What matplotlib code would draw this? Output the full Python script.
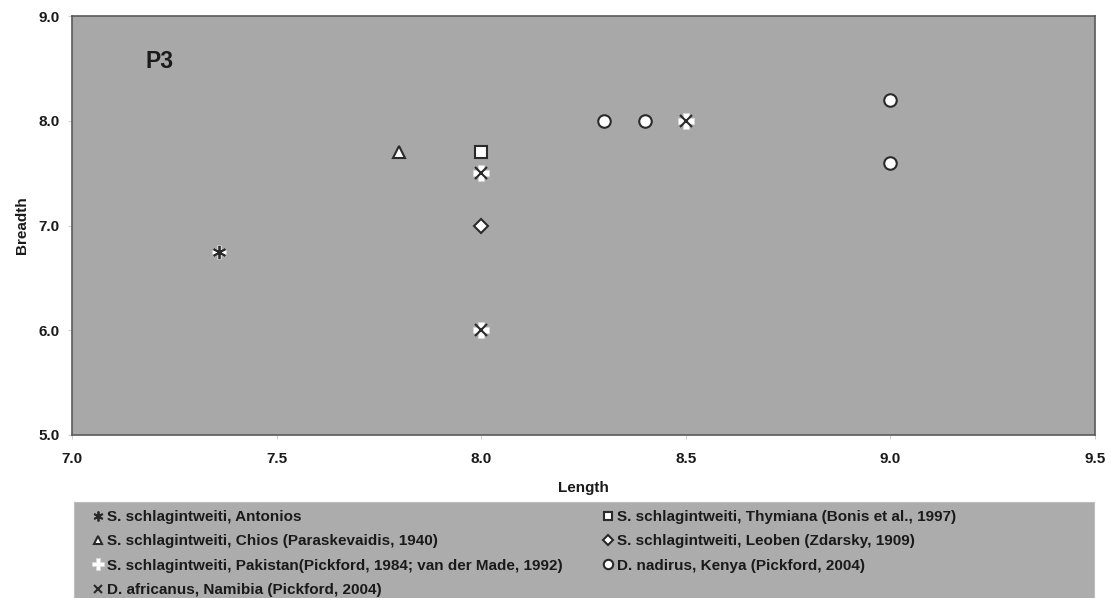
import matplotlib.pyplot as plt

plt.rcParams['font.family'] = ['Liberation Sans', 'DejaVu Sans']
plt.rcParams['font.weight'] = 'bold'

# data
antonios_x = [7.36]
antonios_y = [6.75]
chios_x = [7.8]
chios_y = [7.7]
pakistan_x = [8.0, 8.0, 8.5]
pakistan_y = [7.5, 6.0, 8.0]
africanus_x = [8.0, 8.0, 8.5]
africanus_y = [7.5, 6.0, 8.0]
thymiana_x = [8.0]
thymiana_y = [7.7]
leoben_x = [8.0]
leoben_y = [7.0]
nadirus_x = [8.3, 8.4, 9.0, 9.0]
nadirus_y = [8.0, 8.0, 8.2, 7.6]

xticks = [7.0, 7.5, 8.0, 8.5, 9.0, 9.5]
yticks = [5.0, 6.0, 7.0, 8.0, 9.0]

bg = "#a8a8a8"
ec = "#2a2a2a"
txt = "#1a1a1a"

fig = plt.figure(figsize=(11.11, 5.98), dpi=100)
ax = fig.add_axes([72 / 1111, 1 - 435 / 598, 1023 / 1111, 419 / 598])
ax.set_facecolor(bg)

ms = 8.5
# white backing behind the asterisk
ax.plot(antonios_x, antonios_y, ls="none", marker="P", ms=ms + 1.5, mfc="white",
        mec="none")
h_ant, = ax.plot(antonios_x, antonios_y, ls="none", marker=(6, 2, 0), ms=ms + 1,
                 mec=ec, mew=1.3, label="S. schlagintweiti, Antonios")
h_chi, = ax.plot(chios_x, chios_y, ls="none", marker="^", ms=ms, mfc="white",
                 mec=ec, mew=1.5, label="S. schlagintweiti, Chios (Paraskevaidis, 1940)")
h_pak, = ax.plot(pakistan_x, pakistan_y, ls="none", marker="P", ms=ms + 2.5, mfc="white",
                 mec="#d8d8d8", mew=0.5,
                 label="S. schlagintweiti, Pakistan(Pickford, 1984; van der Made, 1992)")
h_afr, = ax.plot(africanus_x, africanus_y, ls="none", marker="x", ms=ms, mec=ec,
                 mew=1.5, label="D. africanus, Namibia (Pickford, 2004)")
h_thy, = ax.plot(thymiana_x, thymiana_y, ls="none", marker="s", ms=ms, mfc="white",
                 mec=ec, mew=1.5, label="S. schlagintweiti, Thymiana (Bonis et al., 1997)")
h_leo, = ax.plot(leoben_x, leoben_y, ls="none", marker="D", ms=ms - 1.5, mfc="white",
                 mec=ec, mew=1.5, label="S. schlagintweiti, Leoben (Zdarsky, 1909)")
h_nad, = ax.plot(nadirus_x, nadirus_y, ls="none", marker="o", ms=ms + 0.5, mfc="white",
                 mec=ec, mew=1.5, label="D. nadirus, Kenya (Pickford, 2004)")

ax.set_xlim(7.0, 9.5)
ax.set_ylim(5.0, 9.0)
ax.set_xticks(xticks)
ax.set_yticks(yticks)
ax.set_xticklabels([f"{t:.1f}" for t in xticks])
ax.set_yticklabels([f"{t:.1f}" for t in yticks])
ax.tick_params(labelsize=11, colors="#d0d0d0", labelcolor=txt, length=3)
ax.tick_params(axis="x", pad=9)
ax.tick_params(axis="y", pad=6)
for s in ax.spines.values():
    s.set_color("#5a5a5a")
    s.set_linewidth(1.2)

ax.set_xlabel("Length", fontsize=11, fontweight="bold", labelpad=11, color=txt)
ax.set_ylabel("Breadth", fontsize=11, fontweight="bold", labelpad=7, color=txt)
ax.text(7.18, 8.57, "P3", fontsize=16.5, fontweight="bold", color=txt, va="center")

# legend box below the plot
lax = fig.add_axes([74 / 1111, 0.0, 1020 / 1111, 96 / 598])
lax.set_facecolor("#acacac")
lax.set_xticks([])
lax.set_yticks([])
for s in lax.spines.values():
    s.set_color("#bdbdbd")
    s.set_linewidth(0.8)

col1 = [h_ant, h_chi, h_pak, h_afr]
col2 = [h_thy, h_leo, h_nad]
leg_kw = dict(loc="upper left", frameon=False, fontsize=11, handlelength=0.8,
              handletextpad=0.2, labelspacing=0.68, markerscale=0.75,
              borderpad=0, borderaxespad=0, bbox_transform=fig.transFigure)
leg1 = lax.legend(handles=col1, labels=[h.get_label() for h in col1],
                  bbox_to_anchor=(92 / 1111, 1 - 510 / 598), **leg_kw)
lax.add_artist(leg1)
leg2 = lax.legend(handles=col2, labels=[h.get_label() for h in col2],
                  bbox_to_anchor=(602 / 1111, 1 - 510 / 598), **leg_kw)
for lg in (leg1, leg2):
    for t in lg.get_texts():
        t.set_color(txt)

fig.savefig("out.png", dpi=100)
